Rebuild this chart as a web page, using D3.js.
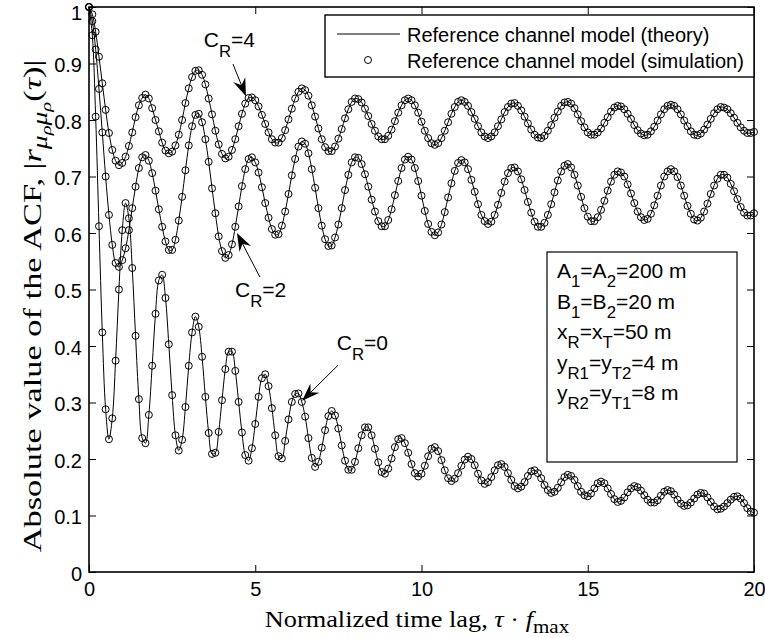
<!DOCTYPE html>
<html>
<head>
<meta charset="utf-8">
<script src="https://cdn.jsdelivr.net/npm/d3@7"></script>
<style>
  body { margin: 0; background: #fff; }
</style>
</head>
<body>
<div id="chart"></div>
<script>
const width = 765;
const height = 638;
const margin = {top: 7, right: 11, bottom: 66, left: 89};
const plotW = width - margin.left - margin.right;
const plotH = height - margin.top - margin.bottom;

const sans = "'Liberation Sans', Arial, Helvetica, sans-serif";
const serif = "'Liberation Serif', 'Times New Roman', serif";

// normalized time lag grid, tau * fmax
const lags = d3.range(201).map(i => i / 10);

// |ACF|, one value per lag
const acfCR4 = [
  1.000, 0.987, 0.956, 0.912, 0.865, 0.818, 0.777, 0.747, 0.728, 0.720,
  0.724, 0.735, 0.754, 0.778, 0.805, 0.826, 0.839, 0.845, 0.838, 0.821,
  0.800, 0.780, 0.760, 0.746, 0.741, 0.744, 0.755, 0.774, 0.800, 0.830,
  0.856, 0.876, 0.887, 0.888, 0.880, 0.863, 0.838, 0.810, 0.781, 0.757,
  0.740, 0.732, 0.735, 0.747, 0.766, 0.789, 0.811, 0.829, 0.839, 0.840,
  0.835, 0.824, 0.809, 0.793, 0.778, 0.766, 0.760, 0.760, 0.768, 0.782,
  0.801, 0.820, 0.838, 0.850, 0.856, 0.853, 0.843, 0.826, 0.806, 0.785,
  0.766, 0.752, 0.745, 0.745, 0.753, 0.767, 0.784, 0.803, 0.819, 0.832,
  0.838, 0.837, 0.831, 0.820, 0.807, 0.793, 0.781, 0.771, 0.766, 0.766,
  0.772, 0.783, 0.798, 0.813, 0.826, 0.835, 0.838, 0.835, 0.826, 0.813,
  0.797, 0.781, 0.768, 0.759, 0.756, 0.759, 0.768, 0.781, 0.796, 0.811,
  0.823, 0.832, 0.835, 0.832, 0.825, 0.814, 0.802, 0.789, 0.778, 0.771,
  0.768, 0.771, 0.778, 0.789, 0.801, 0.814, 0.823, 0.829, 0.830, 0.825,
  0.817, 0.806, 0.794, 0.783, 0.774, 0.769, 0.768, 0.772, 0.781, 0.791,
  0.804, 0.815, 0.825, 0.831, 0.832, 0.829, 0.821, 0.810, 0.798, 0.787,
  0.778, 0.774, 0.774, 0.778, 0.785, 0.795, 0.805, 0.815, 0.822, 0.825,
  0.824, 0.819, 0.811, 0.802, 0.791, 0.782, 0.776, 0.773, 0.774, 0.780,
  0.788, 0.799, 0.810, 0.819, 0.825, 0.827, 0.825, 0.819, 0.810, 0.799,
  0.789, 0.780, 0.774, 0.773, 0.776, 0.783, 0.792, 0.802, 0.812, 0.819,
  0.823, 0.822, 0.819, 0.812, 0.804, 0.795, 0.787, 0.781, 0.777, 0.777,
  0.779
];

const acfCR2 = [
  1.000, 0.975, 0.925, 0.855, 0.778, 0.700, 0.632, 0.579, 0.547, 0.540,
  0.552, 0.573, 0.605, 0.644, 0.682, 0.715, 0.734, 0.738, 0.728, 0.706,
  0.675, 0.642, 0.611, 0.585, 0.570, 0.570, 0.588, 0.622, 0.664, 0.711,
  0.755, 0.789, 0.809, 0.811, 0.796, 0.766, 0.726, 0.679, 0.635, 0.594,
  0.568, 0.556, 0.561, 0.580, 0.611, 0.647, 0.683, 0.713, 0.731, 0.734,
  0.725, 0.707, 0.681, 0.653, 0.627, 0.607, 0.597, 0.598, 0.613, 0.638,
  0.669, 0.702, 0.731, 0.753, 0.762, 0.758, 0.741, 0.713, 0.680, 0.644,
  0.613, 0.589, 0.577, 0.578, 0.592, 0.615, 0.644, 0.676, 0.703, 0.725,
  0.734, 0.733, 0.722, 0.704, 0.682, 0.659, 0.638, 0.621, 0.612, 0.612,
  0.623, 0.642, 0.667, 0.692, 0.715, 0.730, 0.735, 0.730, 0.715, 0.692,
  0.666, 0.639, 0.616, 0.602, 0.596, 0.601, 0.615, 0.637, 0.663, 0.688,
  0.710, 0.724, 0.729, 0.725, 0.713, 0.694, 0.673, 0.651, 0.632, 0.621,
  0.616, 0.620, 0.632, 0.650, 0.671, 0.691, 0.706, 0.715, 0.716, 0.709,
  0.695, 0.676, 0.655, 0.636, 0.620, 0.611, 0.611, 0.618, 0.632, 0.651,
  0.672, 0.693, 0.709, 0.719, 0.722, 0.716, 0.703, 0.684, 0.664, 0.644,
  0.629, 0.621, 0.621, 0.628, 0.641, 0.657, 0.675, 0.691, 0.703, 0.709,
  0.707, 0.700, 0.686, 0.670, 0.653, 0.638, 0.628, 0.623, 0.625, 0.634,
  0.649, 0.666, 0.684, 0.700, 0.709, 0.713, 0.709, 0.699, 0.684, 0.666,
  0.648, 0.634, 0.624, 0.622, 0.627, 0.638, 0.652, 0.669, 0.684, 0.696,
  0.703, 0.703, 0.698, 0.687, 0.674, 0.660, 0.646, 0.636, 0.631, 0.631,
  0.635
];

const acfCR0 = [
  1.000, 0.950, 0.806, 0.612, 0.424, 0.288, 0.235, 0.272, 0.374, 0.500,
  0.605, 0.653, 0.626, 0.538, 0.418, 0.306, 0.237, 0.228, 0.278, 0.365,
  0.457, 0.516, 0.526, 0.485, 0.403, 0.313, 0.242, 0.215, 0.234, 0.292,
  0.365, 0.424, 0.452, 0.434, 0.381, 0.310, 0.246, 0.209, 0.211, 0.248,
  0.304, 0.359, 0.390, 0.390, 0.356, 0.301, 0.247, 0.207, 0.197, 0.219,
  0.262, 0.310, 0.343, 0.350, 0.329, 0.290, 0.242, 0.205, 0.201, 0.232,
  0.270, 0.301, 0.315, 0.316, 0.301, 0.275, 0.237, 0.202, 0.186, 0.195,
  0.220, 0.251, 0.276, 0.285, 0.277, 0.254, 0.224, 0.197, 0.181, 0.181,
  0.195, 0.219, 0.242, 0.256, 0.256, 0.242, 0.218, 0.194, 0.177, 0.174,
  0.183, 0.201, 0.221, 0.235, 0.237, 0.228, 0.211, 0.191, 0.175, 0.169,
  0.174, 0.188, 0.205, 0.218, 0.221, 0.214, 0.198, 0.180, 0.166, 0.161,
  0.165, 0.175, 0.188, 0.199, 0.204, 0.200, 0.189, 0.174, 0.162, 0.156,
  0.159, 0.168, 0.180, 0.189, 0.191, 0.186, 0.175, 0.163, 0.152, 0.148,
  0.151, 0.159, 0.170, 0.178, 0.180, 0.175, 0.166, 0.154, 0.145, 0.140,
  0.142, 0.149, 0.159, 0.168, 0.172, 0.170, 0.163, 0.152, 0.142, 0.136,
  0.134, 0.139, 0.148, 0.157, 0.160, 0.157, 0.148, 0.138, 0.129, 0.124,
  0.126, 0.132, 0.141, 0.148, 0.152, 0.150, 0.144, 0.136, 0.128, 0.123,
  0.123, 0.127, 0.135, 0.142, 0.145, 0.143, 0.137, 0.128, 0.121, 0.117,
  0.118, 0.123, 0.130, 0.137, 0.140, 0.139, 0.132, 0.124, 0.116, 0.111,
  0.112, 0.116, 0.122, 0.128, 0.133, 0.134, 0.130, 0.122, 0.113, 0.107,
  0.105
];

const xTicks = [0, 5, 10, 15, 20];
const yTicks = [0, 0.1, 0.2, 0.3, 0.4, 0.5, 0.6, 0.7, 0.8, 0.9, 1];

const legendLabels = ["Reference channel model (theory)", "Reference channel model (simulation)"];

// [text, subscript?]
const paramLines = [
  [["A", 0], ["1", 1], ["=A", 0], ["2", 1], ["=200 m", 0]],
  [["B", 0], ["1", 1], ["=B", 0], ["2", 1], ["=20 m", 0]],
  [["x", 0], ["R", 1], ["=x", 0], ["T", 1], ["=50 m", 0]],
  [["y", 0], ["R1", 1], ["=y", 0], ["T2", 1], ["=4 m", 0]],
  [["y", 0], ["R2", 1], ["=y", 0], ["T1", 1], ["=8 m", 0]]
];

// C_R labels: text anchor, arrow tail, arrow tip (data units)
const crNotes = [
  {value: "4", text: [3.45, 0.929], tail: [4.33, 0.899], tip: [4.72, 0.842]},
  {value: "2", text: [4.39, 0.487], tail: [5.14, 0.522], tip: [4.45, 0.600]},
  {value: "0", text: [7.45, 0.393], tail: [7.49, 0.366], tip: [6.41, 0.303]}
];

const svg = d3.select("#chart").append("svg")
  .attr("width", width)
  .attr("height", height);

const g = svg.append("g")
  .attr("transform", `translate(${margin.left},${margin.top})`);

const x = d3.scaleLinear().domain([0, 20]).range([0, plotW]);
const y = d3.scaleLinear().domain([0, 1]).range([plotH, 0]);

function styleAxis(sel) {
  sel.select(".domain").remove();
  sel.selectAll("line").attr("stroke", "#000").attr("stroke-width", 1);
  sel.selectAll("text")
    .attr("font-family", sans)
    .attr("font-size", 20)
    .attr("fill", "#000");
}

g.append("g")
  .attr("transform", `translate(0,${plotH})`)
  .call(d3.axisBottom(x).tickValues(xTicks).tickSize(-7).tickPadding(10).tickFormat(d3.format("d")))
  .call(styleAxis);

g.append("g")
  .call(d3.axisLeft(y).tickValues(yTicks).tickSize(-7).tickPadding(7).tickFormat(d => d))
  .call(styleAxis)
  // the top label sits a little lower, as in the original, so it stays inside the page
  .call(a => a.selectAll("text").attr("dy", d => d === 1 ? 12 : "0.42em"));

g.append("g")
  .call(d3.axisTop(x).tickValues(xTicks).tickSize(-7).tickFormat(""))
  .call(styleAxis);

g.append("g")
  .attr("transform", `translate(${plotW},0)`)
  .call(d3.axisRight(y).tickValues(yTicks).tickSize(-7).tickFormat(""))
  .call(styleAxis);

// curves: theory line + simulation markers
const line = d3.line()
  .x((d, i) => x(lags[i]))
  .y(d => y(d))
  .curve(d3.curveCatmullRom);

[acfCR4, acfCR2, acfCR0].forEach(s => {
  g.append("path")
    .attr("d", line(s))
    .attr("fill", "none")
    .attr("stroke", "#000")
    .attr("stroke-width", 1);

  g.append("g").selectAll("circle")
    .data(s)
    .join("circle")
    .attr("cx", (d, i) => x(lags[i]))
    .attr("cy", d => y(d))
    .attr("r", 3.5)
    .attr("fill", "none")
    .attr("stroke", "#000")
    .attr("stroke-width", 1);
});

g.append("rect")
  .attr("width", plotW)
  .attr("height", plotH)
  .attr("fill", "none")
  .attr("stroke", "#000")
  .attr("stroke-width", 1.6);

// text with tspans; level 1 = subscript, level 2 = sub-subscript
function richText(sel, parts, size, shifts) {
  let cur = 0;
  parts.forEach(p => {
    const lvl = p[1];
    const off = shifts[lvl];
    const ts = sel.append("tspan")
      .text(p[0])
      .attr("dy", off - cur)
      .attr("font-size", size * [1, 0.8, 0.6][lvl]);
    if (p[2]) ts.attr("font-style", "italic");
    cur = off;
  });
}

// legend
const legend = svg.append("g");
legend.append("rect")
  .attr("x", 325).attr("y", 15)
  .attr("width", margin.left + plotW - 325).attr("height", 62)
  .attr("fill", "#fff")
  .attr("stroke", "#000")
  .attr("stroke-width", 1.4);
legend.append("line")
  .attr("x1", 337).attr("x2", 400)
  .attr("y1", 34).attr("y2", 34)
  .attr("stroke", "#000").attr("stroke-width", 1);
legend.append("circle")
  .attr("cx", 368).attr("cy", 60).attr("r", 3.5)
  .attr("fill", "none").attr("stroke", "#000");
legend.selectAll("text.lab")
  .data(legendLabels)
  .join("text")
  .attr("class", "lab")
  .attr("x", 407)
  .attr("y", (d, i) => 42 + i * 26)
  .attr("font-family", sans)
  .attr("font-size", 20)
  .text(d => d);

// parameter box
const box = svg.append("g");
box.append("rect")
  .attr("x", 547).attr("y", 252)
  .attr("width", 190).attr("height", 210)
  .attr("fill", "#fff")
  .attr("stroke", "#000")
  .attr("stroke-width", 1.2);
paramLines.forEach((parts, i) => {
  const t = box.append("text")
    .attr("x", 557)
    .attr("y", 278 + i * 30.5)
    .attr("font-family", sans)
    .attr("font-size", 20);
  richText(t, parts, 21, [0, 9]);
});

// C_R annotations
function arrow(x1, y1, x2, y2) {
  const a = Math.atan2(y2 - y1, x2 - x1);
  const c = Math.cos(a), s = Math.sin(a);
  const L = 18, W = 6.5, N = 12;
  const nx = x2 - N * c, ny = y2 - N * s;
  svg.append("line")
    .attr("x1", x1).attr("y1", y1)
    .attr("x2", nx).attr("y2", ny)
    .attr("stroke", "#000").attr("stroke-width", 1);
  const pts = [
    [x2, y2],
    [x2 - L * c - W * s, y2 - L * s + W * c],
    [nx, ny],
    [x2 - L * c + W * s, y2 - L * s - W * c]
  ];
  svg.append("polygon")
    .attr("points", pts.map(p => p.join(",")).join(" "))
    .attr("fill", "#000");
}

crNotes.forEach(n => {
  const t = svg.append("text")
    .attr("x", margin.left + x(n.text[0]))
    .attr("y", margin.top + y(n.text[1]))
    .attr("font-family", sans)
    .attr("font-size", 20);
  richText(t, [["C", 0], ["R", 1], ["=" + n.value, 0]], 21, [0, 10]);
  arrow(margin.left + x(n.tail[0]), margin.top + y(n.tail[1]),
        margin.left + x(n.tip[0]), margin.top + y(n.tip[1]));
});

// axis titles, Computer Modern look-alike, stretched to the measured length
function fitText(t, target) {
  const w = t.node().getBBox().width;
  t.attr("transform", `scale(${target / w},1)`);
}

const xt = svg.append("g")
  .attr("transform", `translate(417,627)`)
  .append("text")
  .attr("text-anchor", "middle")
  .attr("font-family", serif)
  .attr("font-size", 24);
richText(xt, [["Normalized time lag, ", 0], ["τ", 0, 1], [" · ", 0], ["f", 0, 1], ["max", 1]], 24, [0, 6]);
fitText(xt, 305);

const yt = svg.append("g")
  .attr("transform", `translate(41,306) rotate(-90)`)
  .append("text")
  .attr("text-anchor", "middle")
  .attr("font-family", serif)
  .attr("font-size", 26);
richText(yt, [
  ["Absolute value of the ACF, |", 0], ["r", 0, 1],
  ["μ", 1, 1], ["ρ", 2, 1], ["μ", 1, 1], ["ρ", 2, 1],
  ["(", 0], ["τ", 0, 1], [")|", 0]
], 26, [0, 6, 10]);
fitText(yt, 493);
</script>
</body>
</html>
